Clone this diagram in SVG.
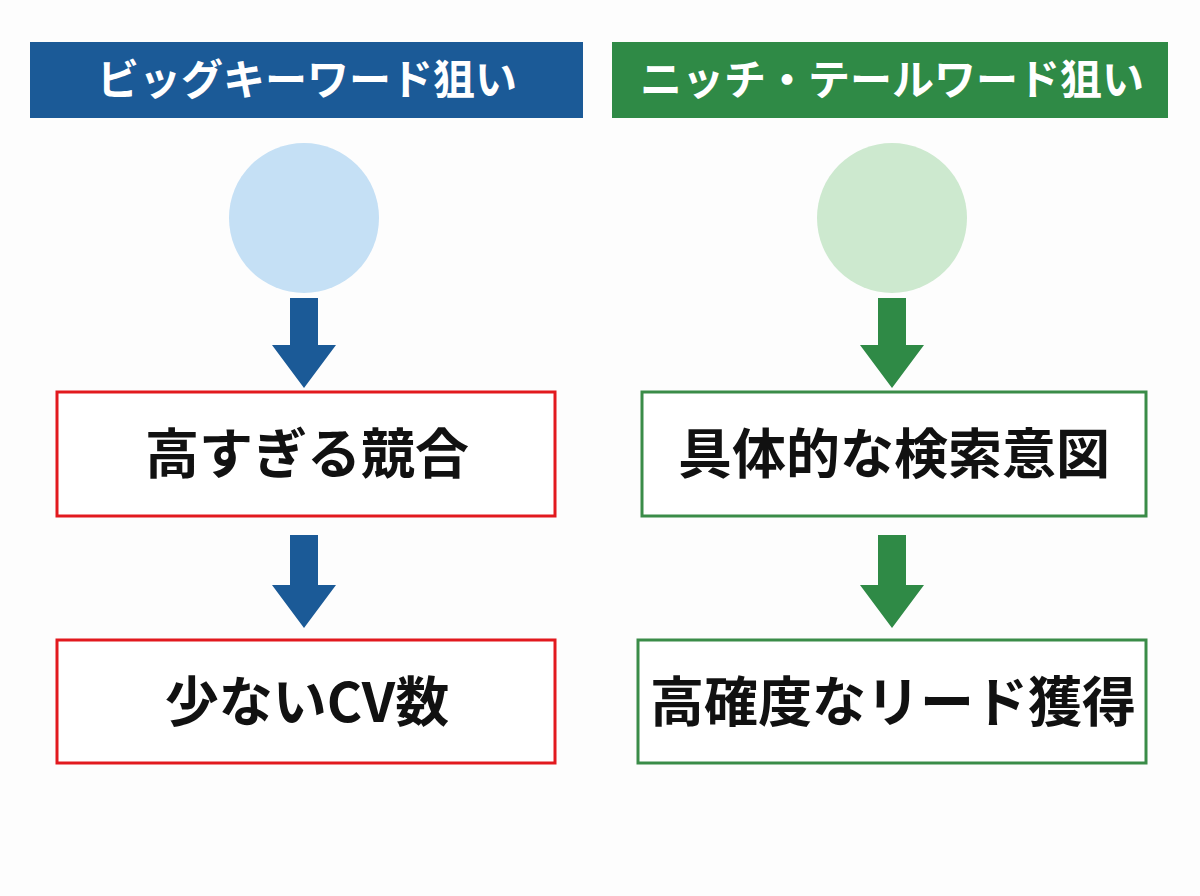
<svg xmlns="http://www.w3.org/2000/svg" width="1200" height="896" viewBox="0 0 1200 896">
<style>
.h{font-family:"Noto Sans CJK JP","Noto Sans",sans-serif;font-weight:700;font-size:42px;fill:#fff;text-anchor:middle}
.t{font-family:"Noto Sans CJK JP","Noto Sans",sans-serif;font-weight:700;font-size:54px;fill:#111;text-anchor:middle}
.rb{fill:#fff;stroke:#e2191e;stroke-width:3}
.gb{fill:#fff;stroke:#3a8c48;stroke-width:3}
</style>
<rect width="1200" height="896" fill="#fdfdfd"/>
<g id="hdrL"><rect x="30" y="42" width="553" height="76" fill="#1b5a97"/><text class="h" x="307" y="95">ビッグキーワード狙い</text></g>
<g id="hdrR"><rect x="612" y="42" width="556" height="76" fill="#2f8a46"/><text class="h" x="892" y="95">ニッチ・テールワード狙い</text></g>
<g id="circL"><circle cx="304" cy="218" r="75" fill="#c5e0f5"/></g>
<g id="circR"><circle cx="892" cy="218" r="75" fill="#cde9cf"/></g>
<g id="boxL1"><rect class="rb" x="57" y="392" width="498" height="124"/><text class="t" x="307" y="474">高すぎる競合</text></g>
<g id="boxL2"><rect class="rb" x="57" y="640" width="498" height="123"/><text class="t" x="307" y="722">少ないCV数</text></g>
<g id="boxR1"><rect class="gb" x="642" y="392" width="504" height="124"/><text class="t" x="894" y="474">具体的な検索意図</text></g>
<g id="boxR2"><rect class="gb" x="638" y="640" width="508" height="123"/><text class="t" x="893" y="722">高確度なリード獲得</text></g>
<g id="connectors">
<path d="M290 298H318V345H336L304 388L272 345H290Z" fill="#1b5a97"/>
<path d="M290 535H318V585H336L304 628L272 585H290Z" fill="#1b5a97"/>
<path d="M878 298H906V345H924L892 388L860 345H878Z" fill="#2f8a46"/>
<path d="M878 535H906V585H924L892 628L860 585H878Z" fill="#2f8a46"/>
</g>
</svg>
